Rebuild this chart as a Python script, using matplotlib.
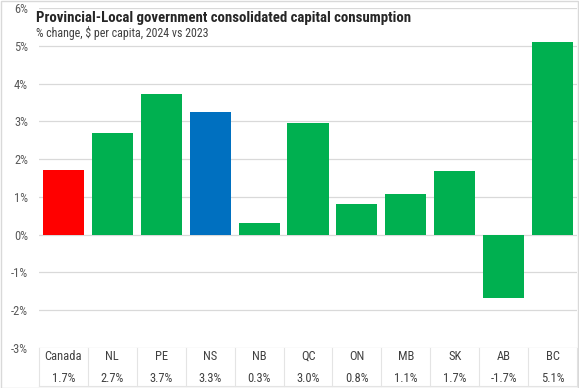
import matplotlib.pyplot as plt
import matplotlib.transforms as mtransforms
from matplotlib.patches import Rectangle

# provinces and % change in per-capita capital consumption, 2024 vs 2023
regions = ['Canada', 'NL', 'PE', 'NS', 'NB', 'QC', 'ON', 'MB', 'SK', 'AB', 'BC']
pct_change = [1.7, 2.7, 3.73, 3.26, 0.3, 2.96, 0.8, 1.07, 1.68, -1.68, 5.1]
bar_colors = ['#FF0000', '#00B050', '#00B050', '#0070C0', '#00B050', '#00B050',
              '#00B050', '#00B050', '#00B050', '#00B050', '#00B050']
y_ticks = [-3, -2, -1, 0, 1, 2, 3, 4, 5, 6]

W, H = 579, 388
fonts = ['Roboto Condensed', 'Roboto', 'DejaVu Sans']
fig = plt.figure(figsize=(W / 100, H / 100), dpi=100, facecolor='white')
fig.patches.append(Rectangle((0.5 / W, 0.5 / H), 1 - 1.5 / W, 1 - 1.5 / H,
                             transform=fig.transFigure, fill=False,
                             edgecolor='#D9D9D9', linewidth=1))

ax = fig.add_axes([39 / W, 1 - 348 / H, 538 / W, 340 / H])
x = list(range(len(regions)))
ax.bar(x, pct_change, width=0.84, color=bar_colors, zorder=3)

ax.set_xlim(-0.5, len(regions) - 0.5)
ax.set_ylim(-3, 6)
ax.set_yticks(y_ticks)
ax.set_yticklabels([f'{t}%' for t in y_ticks], color='#595959', fontsize=9,
                   family=fonts)
ax.tick_params(axis='y', length=0, pad=8)
ax.set_xticks([])
ax.grid(axis='y', color='#D9D9D9', linewidth=0.9, zorder=0)
for s in ax.spines.values():
    s.set_visible(False)

# data table under the chart
trans = mtransforms.blended_transform_factory(ax.transData, fig.transFigure)
for i, (name, v) in enumerate(zip(regions, pct_change)):
    ax.text(i, 1 - 356 / H, name, transform=trans, ha='center', va='center',
            fontsize=9, color='#404040', clip_on=False, family=fonts)
    ax.text(i, 1 - 378 / H, f'{v:.1f}%', transform=trans, ha='center',
            va='center', fontsize=9, color='#404040', clip_on=False, family=fonts)
for i in range(len(regions) + 1):
    ax.plot([i - 0.5, i - 0.5], [1 - 348 / H, 1 - 386 / H], transform=trans,
            color='#E4E4E4', linewidth=0.8, clip_on=False)
ax.plot([-0.5, len(regions) - 0.5], [1 - 386 / H, 1 - 386 / H], transform=trans,
        color='#E4E4E4', linewidth=0.8, clip_on=False)

fig.text(36 / W, 1 - 18 / H, 'Provincial-Local government consolidated capital consumption',
         fontsize=10.7, fontweight='bold', color='#262626', va='center', family=fonts)
fig.text(36 / W, 1 - 33 / H, '% change, $ per capita, 2024 vs 2023',
         fontsize=8.6, color='#404040', va='center', family=fonts)

fig.savefig('out.png', dpi=100, facecolor='white')
